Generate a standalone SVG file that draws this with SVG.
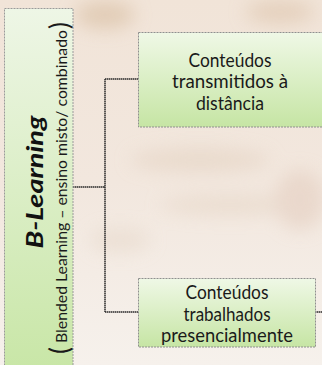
<svg xmlns="http://www.w3.org/2000/svg" width="322" height="365" viewBox="0 0 322 365">
  <defs>
    <linearGradient id="bg" x1="0" y1="0" x2="0" y2="1">
      <stop offset="0" stop-color="#f1e4d8"/>
      <stop offset="0.5" stop-color="#f2e7de"/>
      <stop offset="1" stop-color="#f6f1ec"/>
    </linearGradient>
    <linearGradient id="nodeFill" x1="0" y1="0" x2="0" y2="1">
      <stop offset="0" stop-color="#eff8e6"/>
      <stop offset="1" stop-color="#c6e5a4"/>
    </linearGradient>
    <linearGradient id="sideFill" x1="0" y1="0" x2="0" y2="1">
      <stop offset="0" stop-color="#eef6e6"/>
      <stop offset="1" stop-color="#c8e6a6"/>
    </linearGradient>
    <filter id="blur" x="-50%" y="-50%" width="200%" height="200%">
      <feGaussianBlur stdDeviation="9"/>
    </filter>
  </defs>
  <style>
    .node { fill: url(#nodeFill); stroke: #8f8f8f; stroke-width: 1; stroke-dasharray: 2 1; }
    .side { fill: url(#sideFill); stroke: #9a9a9a; stroke-width: 1; stroke-dasharray: 2 1; }
    .lbl { font-family: Lato, "Open Sans", sans-serif; font-size: 19.5px; fill: #1a1a1a; text-anchor: middle; }
    .sub { font-family: Lato, "Open Sans", sans-serif; font-size: 16px; fill: #1a1a1a; }
    .paren { font-family: Lato, "Open Sans", sans-serif; font-size: 26px; fill: #1a1a1a; }
    .title { font-family: Lato, "Open Sans", sans-serif; font-size: 22px; font-weight: bold; font-style: italic; fill: #111; text-anchor: middle; }
    .conn { fill: none; stroke: #2a2a2a; stroke-width: 1.5; stroke-dasharray: 1.5 0.5; }
  </style>

  <!-- background -->
  <rect x="0" y="0" width="322" height="365" fill="url(#bg)"/>
  <g filter="url(#blur)" opacity="0.7">
    <ellipse cx="105" cy="15" rx="30" ry="14" fill="#dcc3a9"/>
    <ellipse cx="280" cy="12" rx="35" ry="12" fill="#e0c9b2"/>
    <ellipse cx="200" cy="160" rx="70" ry="12" fill="#e6d6c6"/>
    <ellipse cx="230" cy="205" rx="70" ry="10" fill="#e8d9ca"/>
    <ellipse cx="300" cy="200" rx="25" ry="30" fill="#e6d2c4"/>
    <ellipse cx="120" cy="240" rx="30" ry="12" fill="#e9dccf"/>
  </g>

  <!-- connectors -->
  <g id="connectors">
    <path class="conn" d="M73,187 H105 M105,79 V312 M105,79 H138 M105,312 H138 M315,312 H322"/>
  </g>

  <!-- left vertical node -->
  <g id="node-blearning">
    <rect class="side" x="4.5" y="8.5" width="68.5" height="365"/>
    <text class="title" transform="translate(43,182) rotate(-90)" textLength="133" lengthAdjust="spacingAndGlyphs">B-Learning</text>
    <text class="paren" transform="translate(69,354) rotate(-90)">(</text>
    <text class="sub" transform="translate(67,343) rotate(-90)" textLength="313" lengthAdjust="spacingAndGlyphs">Blended Learning – ensino misto/ combinado</text>
    <text class="paren" transform="translate(69,29) rotate(-90)">)</text>
  </g>

  <!-- node 1 -->
  <g id="node-distancia">
    <rect class="node" x="138.5" y="32.5" width="190" height="94.5"/>
    <text class="lbl" x="230" y="66.5" textLength="83" lengthAdjust="spacingAndGlyphs">Conteúdos</text>
    <text class="lbl" x="230" y="88" textLength="116" lengthAdjust="spacingAndGlyphs">transmitidos à</text>
    <text class="lbl" x="230" y="109.5" textLength="68" lengthAdjust="spacingAndGlyphs">distância</text>
  </g>

  <!-- node 2 -->
  <g id="node-presencial">
    <rect class="node" x="138.5" y="278.5" width="177" height="68.5"/>
    <text class="lbl" x="227" y="299" textLength="83" lengthAdjust="spacingAndGlyphs">Conteúdos</text>
    <text class="lbl" x="227" y="320.5" textLength="87" lengthAdjust="spacingAndGlyphs">trabalhados</text>
    <text class="lbl" x="227" y="341.5" textLength="132" lengthAdjust="spacingAndGlyphs">presencialmente</text>
  </g>
</svg>
